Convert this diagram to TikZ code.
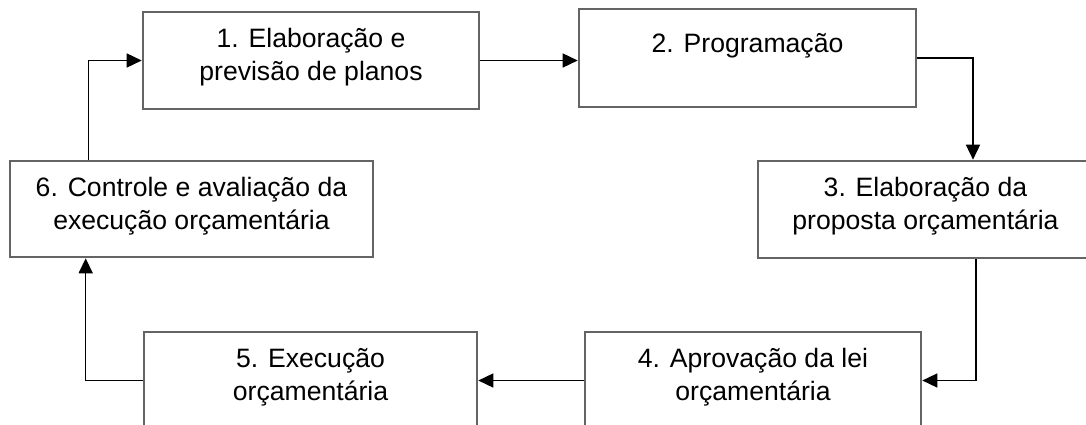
\documentclass[tikz,border=0pt]{standalone}
\usepackage{fontspec}
\setmainfont{Liberation Sans}
\usetikzlibrary{arrows.meta}
\definecolor{boxgray}{HTML}{646464}
\newcommand\dpfix{\rule[-11.5pt]{0pt}{0pt}}
\newcommand\dpone{\rule[-29.5pt]{0pt}{0pt}}
\begin{document}
\begin{tikzpicture}[x=1pt,y=-1pt,
  box/.style={draw=boxgray, line width=2.6pt, inner sep=0pt, align=center,
              font=\fontsize{26.6}{33}\selectfont, text=black},
  conn/.style={line width=1.5pt, draw=black, -{Triangle[length=15pt,width=14pt]}}]
\useasboundingbox (0,0) rectangle (1086,425);
\begin{scope}
\clip (0,0) rectangle (1086,425);
\node[box, minimum width=336pt, minimum height=97pt] (b1) at (311,60.5) {1. Elaboração e\\previsão de planos\dpfix};
\node[box, minimum width=337pt, minimum height=98pt] (b2) at (747.5,58) {2. Programação\dpone};
\node[box, minimum width=335pt, minimum height=97pt] (b3) at (925.5,209.5) {3. Elaboração da\\proposta orçamentária\dpfix};
\node[box, minimum width=336pt, minimum height=97pt] (b4) at (753,380.5) {4. Aprovação da lei\\orçamentária\dpfix};
\node[box, minimum width=333pt, minimum height=97pt] (b5) at (310.5,380.5) {5. Execução\\orçamentária\dpfix};
\node[box, minimum width=363pt, minimum height=96pt] (b6) at (191.5,209) {6. Controle e avaliação da\\execução orçamentária\dpfix};
\draw[conn] ([xshift=80pt]b6.north west) |- (b1.west);
\draw[conn] (b1.east) -- (b1.east -| b2.west);
\draw[conn] (b2.east) -| ([xshift=47.5pt]b3.north);
\draw[conn] ([xshift=50.5pt]b3.south) |- (b4.east);
\draw[conn] (b4.west) -- (b5.east);
\draw[conn] (b5.west) -| ([xshift=77pt]b6.south west);
\end{scope}
\end{tikzpicture}
\end{document}
